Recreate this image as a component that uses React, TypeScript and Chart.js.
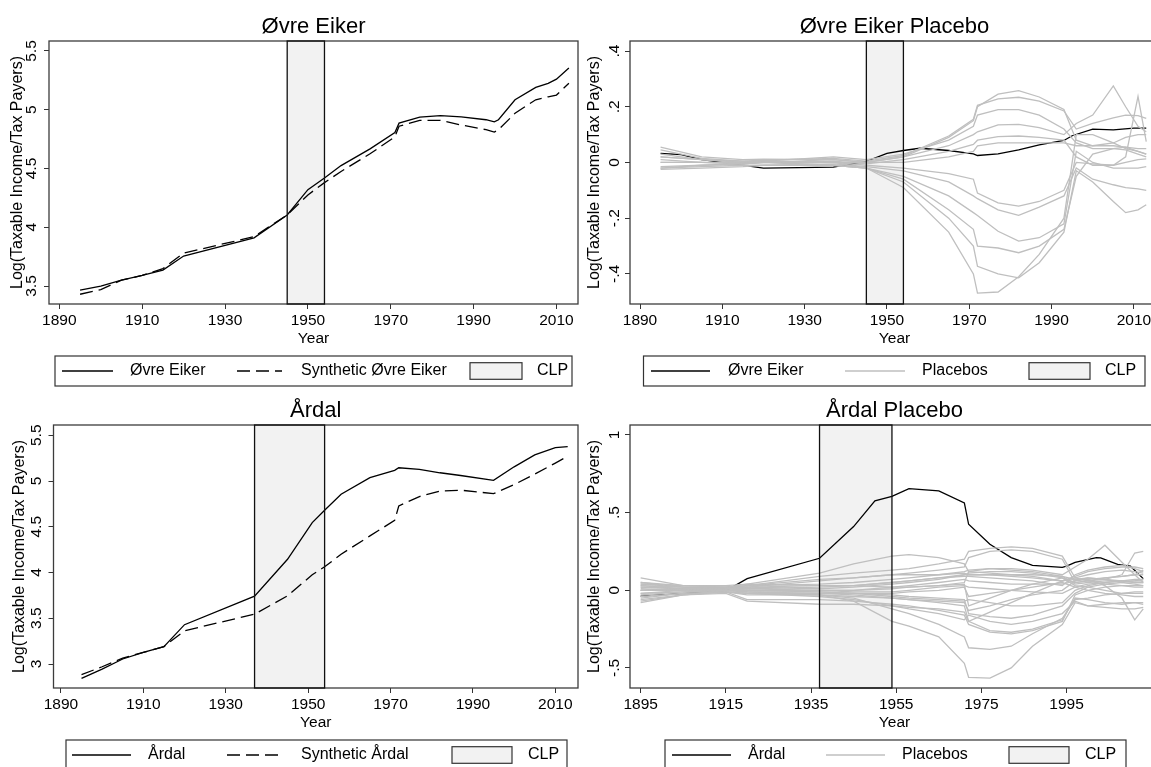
import React, { useEffect, useRef } from "react";
import { Chart, registerables } from "chart.js";
Chart.register(...registerables);

const FONT = "'Liberation Sans', Arial, Helvetica, sans-serif";

// ---------- Data ----------
const eikerYears = [1895, 1900, 1905, 1910, 1915, 1920, 1937, 1945, 1950, 1954, 1958, 1965, 1971, 1972, 1977, 1982, 1987, 1993, 1995, 1996, 2000, 2005, 2008, 2010, 2013];
const eikerActual = [3.466, 3.5, 3.55, 3.59, 3.636, 3.755, 3.91, 4.105, 4.32, 4.42, 4.525, 4.667, 4.806, 4.886, 4.937, 4.95, 4.94, 4.915, 4.897, 4.915, 5.085, 5.19, 5.225, 5.26, 5.355];
const eikerSynthetic = [3.43, 3.47, 3.55, 3.59, 3.648, 3.78, 3.92, 4.105, 4.275, 4.38, 4.475, 4.625, 4.77, 4.86, 4.91, 4.91, 4.87, 4.83, 4.81, 4.83, 4.97, 5.085, 5.11, 5.125, 5.225];

const ardalYears = [1895, 1900, 1905, 1910, 1915, 1920, 1937, 1945, 1951, 1954, 1958, 1965, 1971, 1972, 1977, 1982, 1987, 1995, 2000, 2005, 2010, 2013];
const ardalActual = [2.844, 2.945, 3.055, 3.127, 3.19, 3.43, 3.742, 4.145, 4.545, 4.68, 4.855, 5.036, 5.116, 5.145, 5.127, 5.09, 5.06, 5.007, 5.155, 5.285, 5.365, 5.376];
const ardalSynthetic = [2.884, 2.97, 3.065, 3.127, 3.19, 3.364, 3.545, 3.745, 3.975, 4.062, 4.2, 4.4, 4.57, 4.727, 4.83, 4.89, 4.9, 4.862, 4.96, 5.076, 5.196, 5.27];

const eikerGapYears = [1895, 1900, 1905, 1910, 1920, 1937, 1945, 1950, 1954, 1958, 1965, 1971, 1972, 1977, 1982, 1987, 1993, 1995, 2000, 2005, 2010, 2013];
const eikerGap = [0.033, 0.028, 0.01, 0.0, -0.02, -0.017, 0.004, 0.033, 0.043, 0.051, 0.043, 0.031, 0.025, 0.031, 0.045, 0.063, 0.079, 0.096, 0.12, 0.117, 0.123, 0.123];

const eikerPlaceboYears = [1895, 1905, 1915, 1920, 1937, 1945, 1954, 1965, 1971, 1972, 1977, 1982, 1987, 1993, 1996, 2000, 2005, 2008, 2011, 2013];
const eikerPlacebos = [
  [0.055, 0.02, 0.01, 0.012, 0.01, 0.0, 0.02, 0.09, 0.15, 0.2, 0.245, 0.258, 0.235, 0.19, 0.08, 0.06, 0.06, 0.055, 0.04, 0.03],
  [0.045, 0.015, 0.005, 0.008, 0.015, 0.005, 0.025, 0.095, 0.155, 0.205, 0.228, 0.234, 0.22, 0.185, 0.12, 0.14, 0.16, 0.17, 0.168, 0.158],
  [0.03, 0.01, 0.0, 0.005, 0.02, 0.01, 0.03, 0.08, 0.13, 0.17, 0.19, 0.19, 0.17, 0.12, 0.07, 0.05, 0.05, 0.045, 0.03, 0.02],
  [0.02, 0.01, 0.005, 0.005, 0.0, 0.0, 0.02, 0.06, 0.1, 0.11, 0.135, 0.137, 0.125, 0.1, 0.14, 0.17, 0.275, 0.2, 0.13, 0.11],
  [0.0, 0.0, 0.0, 0.0, 0.005, -0.005, 0.01, 0.04, 0.065, 0.08, 0.093, 0.095, 0.09, 0.08, 0.02, -0.01, -0.01, 0.02, 0.237, 0.075],
  [-0.02, -0.01, -0.005, 0.0, 0.01, 0.0, 0.0, 0.02, 0.04, 0.06, 0.07, 0.07, 0.07, 0.07, 0.06, 0.06, 0.07, 0.09, 0.1, 0.1],
  [-0.015, -0.01, -0.005, 0.0, 0.0, -0.01, -0.02, -0.04, -0.06, -0.11, -0.145, -0.157, -0.14, -0.1, 0.0, -0.005, -0.01, 0.0, 0.01, 0.013],
  [-0.02, -0.015, -0.01, -0.01, -0.005, -0.015, -0.03, -0.07, -0.12, -0.13, -0.17, -0.19, -0.16, -0.12, -0.02, -0.06, -0.08, -0.09, -0.095, -0.1],
  [0.01, 0.0, -0.005, 0.0, -0.01, -0.02, -0.05, -0.12, -0.18, -0.19, -0.247, -0.282, -0.27, -0.22, 0.04, 0.0, -0.02, -0.02, -0.02, -0.015],
  [-0.025, -0.02, -0.015, -0.01, -0.01, -0.02, -0.06, -0.17, -0.24, -0.3, -0.307, -0.324, -0.3, -0.24, -0.05, 0.03, 0.05, 0.055, 0.05, 0.05],
  [0.0, 0.0, -0.005, 0.0, -0.01, -0.02, -0.07, -0.2, -0.3, -0.373, -0.4, -0.414, -0.36, -0.25, -0.03, -0.07, -0.14, -0.18, -0.17, -0.152],
  [0.02, 0.01, 0.0, 0.005, 0.0, -0.02, -0.09, -0.25, -0.4, -0.469, -0.465, -0.41, -0.33, -0.2, 0.1, 0.1, 0.07, 0.05, 0.04, 0.03],
];

const ardalGapYears = [1895, 1915, 1920, 1937, 1945, 1950, 1954, 1958, 1965, 1971, 1972, 1977, 1982, 1987, 1994, 1995, 1997, 2002, 2003, 2007, 2010, 2013];
const ardalGap = [-0.037, -0.004, 0.075, 0.206, 0.41, 0.576, 0.605, 0.655, 0.64, 0.562, 0.425, 0.296, 0.21, 0.161, 0.148, 0.155, 0.18, 0.21, 0.208, 0.167, 0.155, 0.075];

const ardalPlaceboYears = [1895, 1905, 1915, 1920, 1937, 1945, 1954, 1958, 1965, 1971, 1972, 1977, 1982, 1987, 1994, 1997, 2000, 2004, 2008, 2011, 2013];
const ardalPlacebos = [
  [0.03, 0.02, 0.02, 0.04, 0.11, 0.17, 0.22, 0.23, 0.21, 0.17, 0.12, 0.11, 0.1, 0.09, 0.06, 0.07, 0.08, 0.07, 0.06, 0.05, 0.05],
  [0.0, 0.01, 0.02, 0.03, 0.09, 0.11, 0.13, 0.14, 0.17, 0.2, 0.25, 0.27, 0.28, 0.27, 0.22, 0.08, 0.1, 0.12, 0.13, 0.12, 0.11],
  [-0.02, 0.0, 0.01, 0.02, 0.06, 0.08, 0.1, 0.11, 0.13, 0.15, 0.21, 0.25, 0.26, 0.25, 0.2, 0.05, 0.06, 0.08, 0.09, 0.1, 0.1],
  [0.04, 0.03, 0.02, 0.03, 0.04, 0.05, 0.07, 0.08, 0.1, 0.12, 0.13, 0.14, 0.14, 0.13, 0.1, 0.15, 0.2, 0.29, 0.18, 0.1, 0.05],
  [0.05, 0.03, 0.03, 0.04, 0.03, 0.03, 0.05, 0.06, 0.08, 0.1, 0.11, 0.12, 0.12, 0.11, 0.08, 0.05, 0.06, 0.07, 0.1, 0.24, 0.25],
  [0.08, 0.03, 0.02, 0.02, 0.01, 0.02, 0.04, 0.05, 0.07, 0.1, 0.1, 0.1, 0.09, 0.08, 0.06, 0.09, 0.12, 0.14, 0.15, 0.15, 0.14],
  [0.02, 0.01, 0.01, 0.01, 0.02, 0.03, 0.05, 0.06, 0.08, 0.09, 0.09, 0.08, 0.07, 0.06, 0.03, 0.1, 0.13, 0.15, 0.16, 0.14, 0.12],
  [-0.03, -0.01, 0.0, 0.0, 0.0, 0.0, 0.02, 0.03, 0.05, 0.07, 0.06, 0.05, 0.04, 0.04, 0.04, 0.06, 0.07, 0.03, -0.05, -0.19, -0.12],
  [0.0, 0.0, 0.0, 0.01, 0.0, 0.0, 0.01, 0.02, 0.03, 0.05, 0.12, 0.14, 0.13, 0.12, 0.09, 0.04, 0.05, 0.06, 0.06, 0.07, 0.07],
  [0.01, 0.0, 0.0, 0.0, 0.0, -0.01, -0.01, 0.0, 0.02, 0.03, 0.02, 0.01, 0.0, -0.01, -0.02, 0.02, 0.04, 0.05, 0.06, 0.05, 0.05],
  [-0.05, -0.02, -0.01, -0.02, -0.02, -0.02, -0.02, -0.01, 0.0, 0.02, -0.04, -0.02, 0.0, 0.02, 0.05, 0.02, 0.0, -0.02, -0.03, -0.04, -0.04],
  [-0.06, -0.03, -0.01, -0.03, -0.03, -0.04, -0.05, -0.06, -0.08, -0.1, -0.2, -0.14, -0.08, -0.02, 0.06, 0.08, 0.06, 0.04, 0.03, 0.02, 0.02],
  [0.03, 0.01, 0.0, -0.01, -0.02, -0.03, -0.05, -0.06, -0.07, -0.08, -0.13, -0.1, -0.06, -0.03, 0.0, 0.06, 0.08, 0.07, 0.05, 0.04, 0.03],
  [-0.07, -0.03, -0.02, -0.07, -0.09, -0.09, -0.1, -0.11, -0.12, -0.14, -0.2, -0.26, -0.27, -0.25, -0.19, -0.05, -0.06, -0.08, -0.09, -0.08, -0.09],
  [-0.04, -0.02, -0.01, -0.06, -0.06, -0.07, -0.09, -0.1, -0.13, -0.16, -0.22, -0.27, -0.28, -0.26, -0.2, -0.03, 0.0, 0.02, 0.03, 0.03, 0.03],
  [0.0, 0.0, -0.01, -0.02, -0.04, -0.06, -0.1, -0.12, -0.15, -0.19, -0.16, -0.2, -0.22, -0.2, -0.15, -0.07, -0.1, -0.11, -0.12, -0.12, -0.11],
  [0.02, 0.01, 0.0, -0.01, -0.03, -0.05, -0.12, -0.15, -0.22, -0.3, -0.37, -0.38, -0.36, -0.28, -0.18, -0.06, -0.05, -0.03, -0.02, -0.01, -0.01],
  [-0.08, -0.03, -0.01, -0.02, -0.03, -0.07, -0.2, -0.23, -0.3, -0.47, -0.56, -0.565, -0.5, -0.36, -0.22, -0.08, -0.1, -0.09, -0.08, -0.08, -0.08],
  [0.05, 0.02, 0.01, 0.02, 0.03, 0.03, 0.02, 0.02, 0.03, 0.04, -0.1, -0.05, 0.0, 0.04, 0.08, 0.03, 0.02, 0.0, -0.02, -0.02, -0.02],
  [-0.02, -0.01, 0.0, -0.01, -0.01, -0.02, -0.04, -0.05, -0.06, -0.07, -0.06, -0.08, -0.1, -0.1, -0.08, 0.0, 0.03, 0.05, 0.06, 0.06, 0.06],
  [0.0, 0.01, 0.01, 0.03, 0.07, 0.08, 0.1, 0.1, 0.1, 0.11, 0.1, 0.1, 0.1, 0.1, 0.09, 0.07, 0.07, 0.08, 0.09, 0.1, 0.13],
  [0.04, 0.02, 0.01, 0.0, -0.01, -0.02, -0.03, -0.04, -0.05, -0.06, -0.15, -0.17, -0.18, -0.16, -0.1, -0.02, 0.02, 0.04, 0.05, 0.06, 0.07],
];

const eikerCLP = [1945, 1954];
const ardalCLP = [1937, 1954];

const yearTicksA = [1890, 1910, 1930, 1950, 1970, 1990, 2010];
const yearTicksB = [1895, 1915, 1935, 1955, 1975, 1995];
const eikerYTicks = [3.5, 4, 4.5, 5, 5.5];
const eikerYLabels = ["3.5", "4", "4.5", "5", "5.5"];
const eikerPlYTicks = [-0.4, -0.2, 0, 0.2, 0.4];
const eikerPlYLabels = ["-.4", "-.2", "0", ".2", ".4"];
const ardalYTicks = [3, 3.5, 4, 4.5, 5, 5.5];
const ardalYLabels = ["3", "3.5", "4", "4.5", "5", "5.5"];
const ardalPlYTicks = [-0.5, 0, 0.5, 1];
const ardalPlYLabels = ["-.5", "0", ".5", "1"];

const Y_TITLE = "Log(Taxable Income/Tax Payers)";

// ---------- Helpers ----------
const pts = (xs: number[], ys: number[]) => xs.map((x, i) => ({ x, y: ys[i] }));

const GRAY = "#bfbfbf";

function lineDs(label: string, xs: number[], ys: number[], color: string, dash: number[] = []) {
  return {
    label,
    data: pts(xs, ys),
    borderColor: color,
    borderWidth: 1.3,
    borderDash: dash,
    pointRadius: 0,
    fill: false,
    tension: 0,
  };
}

type LegendItem = { kind: "line" | "rect"; color?: string; dash?: number[]; s: number; e: number; t: number; label: string };

interface PanelCfg {
  left: number;
  top: number;
  width: number;
  height: number;
  title: string;
  xMin: number;
  xMax: number;
  yMin: number;
  yMax: number;
  xTicks: number[];
  yTicks: number[];
  yLabels: string[];
  yAxisWidth: number;
  padRight: number;
  yLabelX: number;
  yTitleX: number;
  clp: number[];
  datasets: any[];
  legendBox: number[];
  legend: LegendItem[];
}

function makeDecor(p: PanelCfg) {
  return {
    id: "stataDecor",
    beforeDatasetsDraw(chart: any) {
      const { ctx, chartArea: a, scales } = chart;
      const x0 = scales.x.getPixelForValue(p.clp[0]);
      const x1 = scales.x.getPixelForValue(p.clp[1]);
      ctx.save();
      ctx.fillStyle = "#f2f2f2";
      ctx.fillRect(x0, a.top, x1 - x0, a.bottom - a.top);
      ctx.restore();
    },
    afterDatasetsDraw(chart: any) {
      const { ctx, chartArea: a, scales } = chart;
      const x0 = scales.x.getPixelForValue(p.clp[0]);
      const x1 = scales.x.getPixelForValue(p.clp[1]);
      ctx.save();
      ctx.strokeStyle = "#3c3c3c";
      ctx.lineWidth = 1.3;
      ctx.strokeRect(a.left, a.top, a.right - a.left, a.bottom - a.top);
      ctx.strokeStyle = "#111";
      ctx.lineWidth = 1.3;
      ctx.strokeRect(x0, a.top, x1 - x0, a.bottom - a.top);
      ctx.restore();
    },
    afterDraw(chart: any) {
      const { ctx, chartArea: a, scales } = chart;
      ctx.save();
      // title
      ctx.fillStyle = "#000";
      ctx.font = `22px ${FONT}`;
      ctx.textAlign = "center";
      ctx.textBaseline = "alphabetic";
      ctx.fillText(p.title, (a.left + a.right) / 2, 33);
      // y tick labels (rotated)
      ctx.font = `15.5px ${FONT}`;
      ctx.textBaseline = "middle";
      p.yTicks.forEach((v, i) => {
        const py = scales.y.getPixelForValue(v);
        ctx.save();
        ctx.translate(p.yLabelX, py);
        ctx.rotate(-Math.PI / 2);
        ctx.fillText(p.yLabels[i], 0, 0);
        ctx.restore();
      });
      // y title
      ctx.font = `16px ${FONT}`;
      ctx.save();
      ctx.translate(p.yTitleX, (a.top + a.bottom) / 2);
      ctx.rotate(-Math.PI / 2);
      ctx.fillText(Y_TITLE, 0, 0);
      ctx.restore();
      // legend
      const bl = p.legendBox[0] - p.left;
      const br = p.legendBox[1] - p.left;
      const bt = 356;
      const bb = 386;
      const cy = 371;
      ctx.strokeStyle = "#333";
      ctx.lineWidth = 1.2;
      ctx.strokeRect(bl, bt, br - bl, bb - bt);
      ctx.font = `16px ${FONT}`;
      ctx.textAlign = "left";
      ctx.textBaseline = "middle";
      p.legend.forEach((it) => {
        const s = it.s - p.left;
        const e = it.e - p.left;
        if (it.kind === "line") {
          ctx.save();
          ctx.strokeStyle = it.color || "#000";
          ctx.lineWidth = 1.3;
          ctx.setLineDash(it.dash || []);
          ctx.beginPath();
          ctx.moveTo(s, cy);
          ctx.lineTo(e, cy);
          ctx.stroke();
          ctx.restore();
        } else {
          ctx.save();
          ctx.fillStyle = "#f2f2f2";
          ctx.fillRect(s, cy - 8.3, e - s, 16.6);
          ctx.strokeStyle = "#333";
          ctx.lineWidth = 1.2;
          ctx.strokeRect(s, cy - 8.3, e - s, 16.6);
          ctx.restore();
        }
        ctx.fillStyle = "#000";
        ctx.fillText(it.label, it.t - p.left, cy);
      });
      ctx.restore();
    },
  };
}

function Panel({ cfg }: { cfg: PanelCfg }) {
  const ref = useRef<HTMLCanvasElement | null>(null);
  useEffect(() => {
    if (!ref.current) return;
    const tickGrid = {
      display: true,
      drawOnChartArea: false,
      drawTicks: true,
      tickLength: 5,
      color: "#333",
      lineWidth: 1,
    };
    const chart = new Chart(ref.current, {
      type: "line",
      data: { datasets: cfg.datasets },
      options: {
        animation: false,
        responsive: false,
        maintainAspectRatio: false,
        layout: { padding: { top: 41, left: 0, right: cfg.padRight, bottom: 26 } },
        plugins: { legend: { display: false }, tooltip: { enabled: false }, title: { display: false } },
        scales: {
          x: {
            type: "linear",
            min: cfg.xMin,
            max: cfg.xMax,
            grid: tickGrid,
            border: { display: false },
            afterBuildTicks: (s: any) => {
              s.ticks = cfg.xTicks.map((v) => ({ value: v }));
            },
            afterFit: (s: any) => {
              s.height = 60;
            },
            ticks: {
              autoSkip: false,
              maxRotation: 0,
              minRotation: 0,
              padding: 2,
              color: "#000",
              font: { family: FONT, size: 15.5 },
              callback: (v: any) => String(v),
            },
            title: {
              display: true,
              text: "Year",
              color: "#000",
              font: { family: FONT, size: 15.5 },
              padding: { top: 0, bottom: 15.7 },
            },
          },
          y: {
            type: "linear",
            min: cfg.yMin,
            max: cfg.yMax,
            grid: tickGrid,
            border: { display: false },
            afterBuildTicks: (s: any) => {
              s.ticks = cfg.yTicks.map((v) => ({ value: v }));
            },
            afterFit: (s: any) => {
              s.width = cfg.yAxisWidth;
            },
            ticks: { display: false },
          },
        },
      } as any,
      plugins: [makeDecor(cfg)],
    });
    return () => chart.destroy();
  }, [cfg]);
  return (
    <canvas
      ref={ref}
      width={cfg.width}
      height={cfg.height}
      style={{ position: "absolute", left: cfg.left, top: cfg.top, width: cfg.width, height: cfg.height, display: "block" }}
    />
  );
}

const panels: PanelCfg[] = [
  {
    left: 0, top: 0, width: 580, height: 390,
    title: "Øvre Eiker",
    xMin: 1887.5, xMax: 2015.2, yMin: 3.347, yMax: 5.585,
    xTicks: yearTicksA, yTicks: eikerYTicks, yLabels: eikerYLabels,
    yAxisWidth: 49, padRight: 2, yLabelX: 32, yTitleX: 18,
    clp: eikerCLP,
    datasets: [
      lineDs("Øvre Eiker", eikerYears, eikerActual, "#000"),
      lineDs("Synthetic Øvre Eiker", eikerYears, eikerSynthetic, "#000", [13, 6]),
    ],
    legendBox: [55, 572],
    legend: [
      { kind: "line", color: "#000", s: 62, e: 113, t: 130, label: "Øvre Eiker" },
      { kind: "line", color: "#000", dash: [13, 6], s: 237, e: 282, t: 301, label: "Synthetic Øvre Eiker" },
      { kind: "rect", s: 470, e: 522, t: 537, label: "CLP" },
    ],
  },
  {
    left: 575, top: 0, width: 590, height: 390,
    title: "Øvre Eiker Placebo",
    xMin: 1887.57, xMax: 2016.1, yMin: -0.508, yMax: 0.436,
    xTicks: yearTicksA, yTicks: eikerPlYTicks, yLabels: eikerPlYLabels,
    yAxisWidth: 55, padRight: 6, yLabelX: 40, yTitleX: 20,
    clp: eikerCLP,
    datasets: [
      ...eikerPlacebos.map((vals, i) => lineDs(`Placebo ${i + 1}`, eikerPlaceboYears, vals, GRAY)),
      lineDs("Øvre Eiker", eikerGapYears, eikerGap, "#000"),
    ],
    legendBox: [643.5, 1145],
    legend: [
      { kind: "line", color: "#000", s: 651, e: 710, t: 728, label: "Øvre Eiker" },
      { kind: "line", color: GRAY, s: 845, e: 905, t: 922, label: "Placebos" },
      { kind: "rect", s: 1029, e: 1090, t: 1105, label: "CLP" },
    ],
  },
  {
    left: 0, top: 384, width: 580, height: 390,
    title: "Årdal",
    xMin: 1888.2, xMax: 2015.5, yMin: 2.738, yMax: 5.612,
    xTicks: yearTicksA, yTicks: ardalYTicks, yLabels: ardalYLabels,
    yAxisWidth: 53.5, padRight: 2, yLabelX: 37, yTitleX: 20,
    clp: ardalCLP,
    datasets: [
      lineDs("Årdal", ardalYears, ardalActual, "#000"),
      lineDs("Synthetic Årdal", ardalYears, ardalSynthetic, "#000", [13, 6]),
    ],
    legendBox: [66, 567],
    legend: [
      { kind: "line", color: "#000", s: 72, e: 131, t: 148, label: "Årdal" },
      { kind: "line", color: "#000", dash: [13, 6], s: 227, e: 280, t: 301, label: "Synthetic Årdal" },
      { kind: "rect", s: 452, e: 512, t: 528, label: "CLP" },
    ],
  },
  {
    left: 575, top: 384, width: 590, height: 390,
    title: "Årdal Placebo",
    xMin: 1892.5, xMax: 2016.7, yMin: -0.629, yMax: 1.064,
    xTicks: yearTicksB, yTicks: ardalPlYTicks, yLabels: ardalPlYLabels,
    yAxisWidth: 55, padRight: 6, yLabelX: 40, yTitleX: 20,
    clp: ardalCLP,
    datasets: [
      ...ardalPlacebos.map((vals, i) => lineDs(`Placebo ${i + 1}`, ardalPlaceboYears, vals, GRAY)),
      lineDs("Årdal", ardalGapYears, ardalGap, "#000"),
    ],
    legendBox: [665, 1126],
    legend: [
      { kind: "line", color: "#000", s: 672, e: 731, t: 748, label: "Årdal" },
      { kind: "line", color: GRAY, s: 826, e: 885, t: 902, label: "Placebos" },
      { kind: "rect", s: 1009, e: 1069, t: 1085, label: "CLP" },
    ],
  },
];

export default function App() {
  return (
    <>
      <style>{`html,body{margin:0;padding:0;background:#fff;overflow:hidden;}`}</style>
      <div style={{ position: "relative", width: 1151, height: 767, overflow: "hidden", background: "#fff" }}>
        {panels.map((p, i) => (
          <Panel key={i} cfg={p} />
        ))}
      </div>
    </>
  );
}
